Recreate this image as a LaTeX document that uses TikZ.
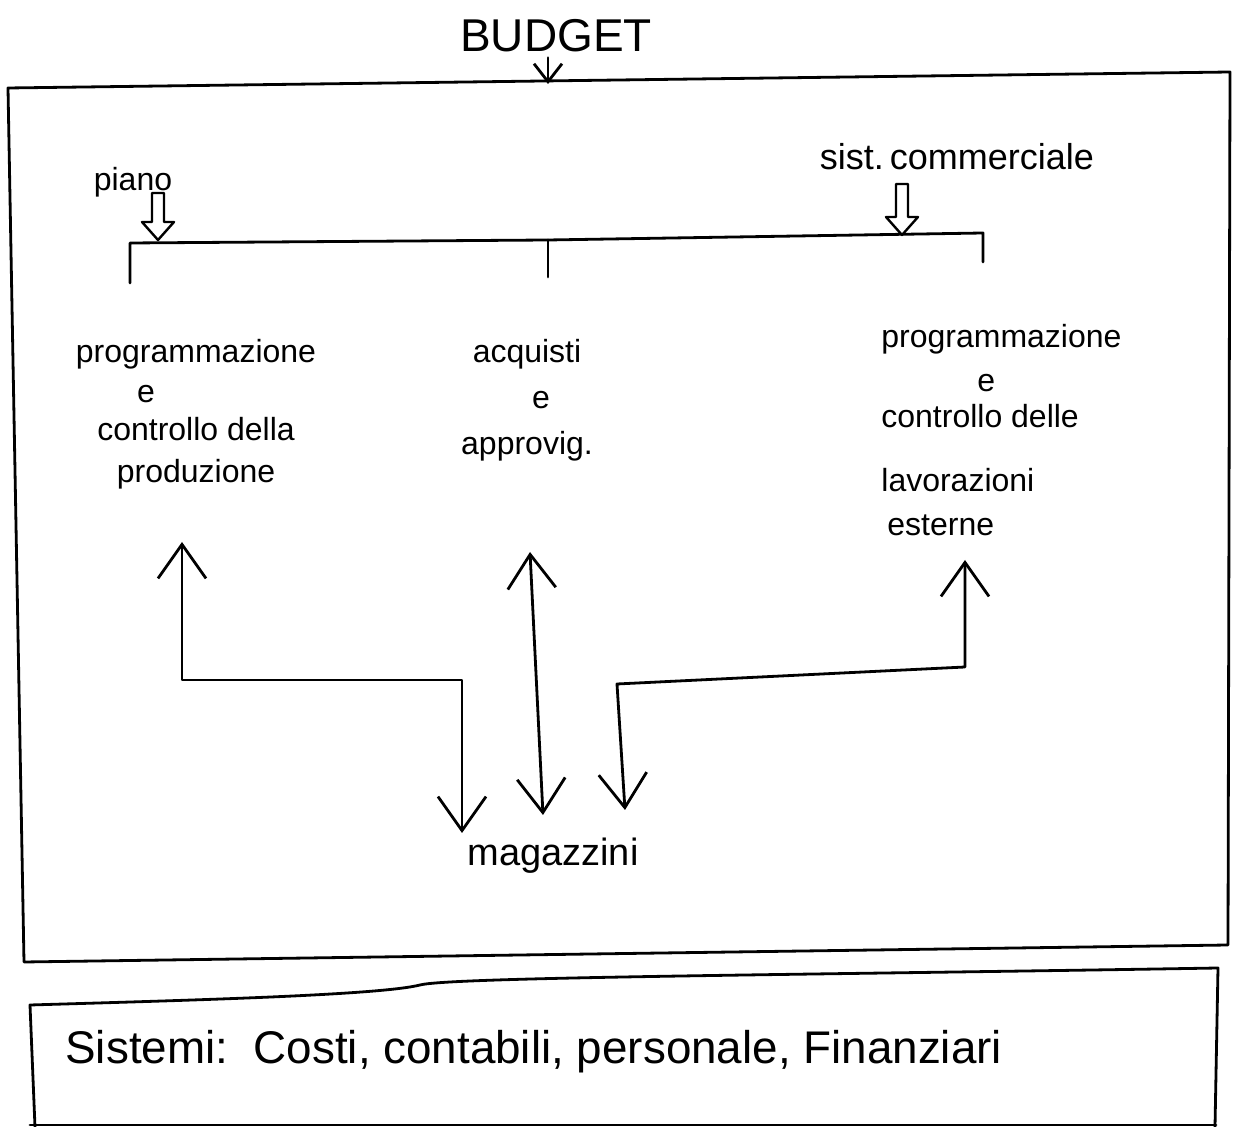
\documentclass[tikz,border=0pt]{standalone}
\usepackage{fontspec}
\setmainfont{Liberation Sans}
\usetikzlibrary{arrows.meta}
\begin{document}
\begin{tikzpicture}[x=0.5pt, y=-0.5pt,
  line width=1.4pt, line cap=round, line join=round,
  txt/.style={inner sep=0pt, font=\fontsize{16}{19}\selectfont},
  barb/.tip={Straight Barb[length=17pt, width=24pt]},
  smallbarb/.tip={Straight Barb[length=9pt, width=14pt]},
  both/.style={barb-barb},
  hollow/.pic={\draw[line width=1.2pt, fill=white]
    (-6,0) -- (-6,#1) -- (-16,#1) -- (0,#1+18) -- (16,#1) -- (6,#1) -- (6,0) -- cycle;}]
\useasboundingbox (0,0) rectangle (1233,1127);

% outer frame of the production area
\draw (8,88) -- (1230,72) -- (1228,945) -- (24,962) -- cycle;

% frame of the support systems
\draw (35,1127) -- (30,1005) .. controls (200,1000) and (380,995) .. (420,985)
      .. controls (450,977) and (800,975) .. (1218,968) -- (1215,1127);
\draw (30,1125) -- (1216,1125);

% budget input
\node[txt, font=\fontsize{23}{25}\selectfont] (budget) at (556,36) {BUDGET};
\coordinate (budgetin) at (548,84);
\draw[-smallbarb] (budget.south -| budgetin) ++(0,4) -- (budgetin);

% distribution bracket
\coordinate (brl) at (130,243);
\coordinate (brm) at (548,240);
\coordinate (brr) at (983,233);
\coordinate (legl) at (130,283);
\coordinate (legm) at (548,277);
\coordinate (legr) at (983,262);
\draw (legl) -- (brl) -- (brm) -- (brr) -- (legr);
\draw (brm) -- (legm);

% inputs into the bracket
\node[txt] (piano) at (133,182) {piano};
\pic at (158,193) {hollow=29};
\node[txt, font=\fontsize{18}{20}\selectfont] (sist) at (957,157) {sist.\,commerciale};
\pic at (902,184) {hollow=33};

% the three functions
\node[txt, align=center] (pcp) at (196,414)
  {programmazione\\[1pt]\hspace*{-50pt}e\\[0pt]controllo della\\[2pt]produzione};
\node[txt, align=center] (acq) at (527,400)
  {acquisti\\[4pt]\hspace*{14pt}e\\[4pt]approvig.};
\node[txt, align=left, anchor=north west] (pcl) at (880,323)
  {programmazione\\[3pt]\hspace*{48pt}e\\[-1pt]controllo delle\\[13pt]lavorazioni\\[3pt]\hspace*{3pt}esterne};

% warehouse
\node[txt, font=\fontsize{19}{21}\selectfont] (mag) at (553,856) {magazzini};

% flows between functions and warehouse
\coordinate (pcpin) at (182,542);
\coordinate (acqin) at (530,552);
\coordinate (pclin) at (965,560);
\coordinate (magl) at (462,833);
\coordinate (magm) at (543,815);
\coordinate (magr) at (625,810);
\draw[both] (pcpin) -- (182,680) -- (462,680) -- (magl);
\draw[both] (acqin) -- (magm);
\draw[both] (pclin) -- (965,667) -- (617,684) -- (magr);

% support systems
\node[txt, anchor=west, font=\fontsize{22.9}{25}\selectfont] (sistemi) at (64,1052)
  {Sistemi:\ \ Costi, contabili, personale, Finanziari};
\end{tikzpicture}
\end{document}
